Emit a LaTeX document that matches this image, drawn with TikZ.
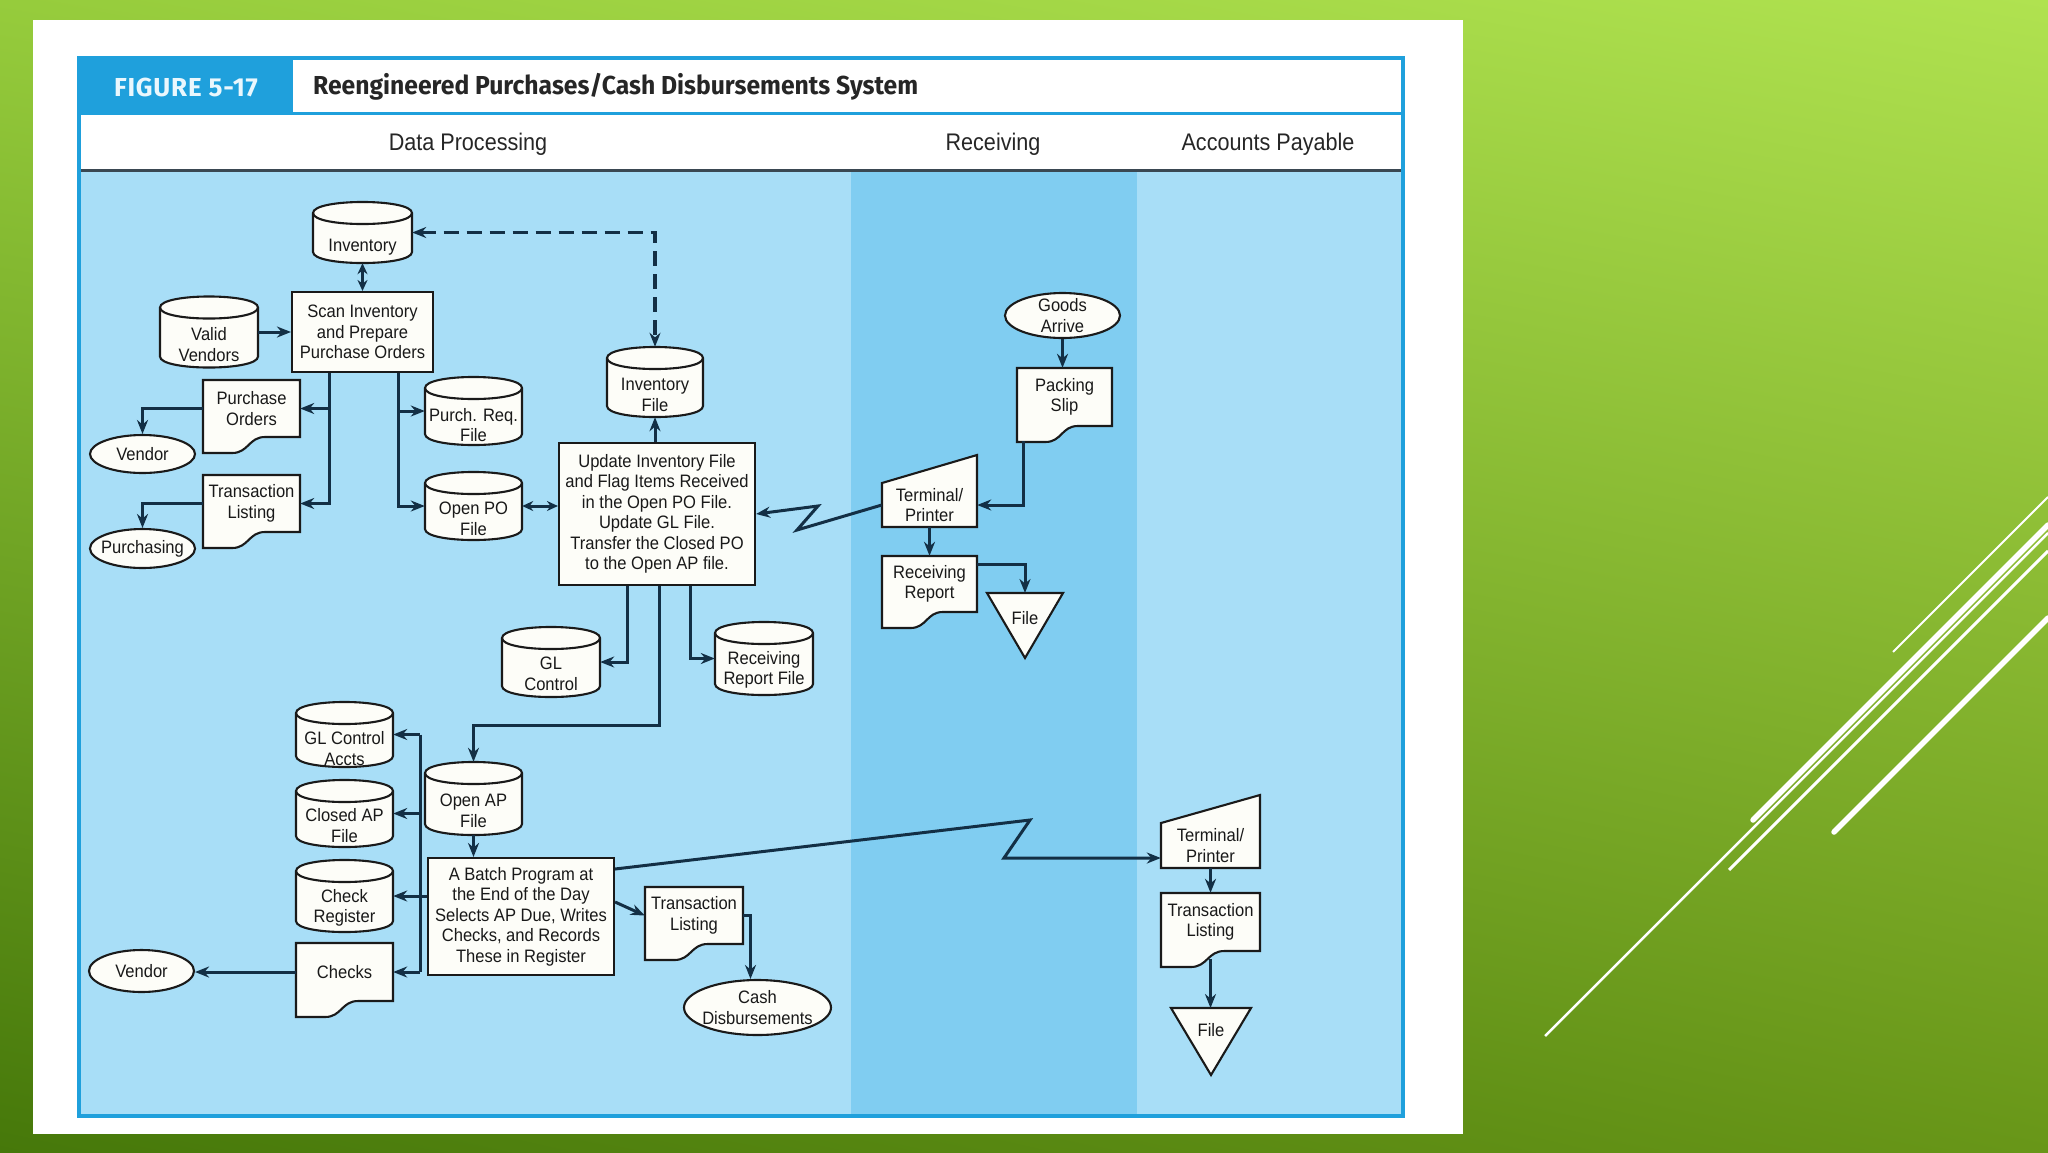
\documentclass[tikz,border=0pt]{standalone}
\usepackage{fontspec}
\setmainfont{Liberation Sans}
\newfontfamily\dia{Liberation Sans}[FakeStretch=0.92]
\newfontfamily\hdr{Liberation Sans}[FakeStretch=0.9]
\newfontfamily\ttl{Fira Sans}[FakeStretch=0.95]
\newfontfamily\figf{Fira Sans}[LetterSpace=3]
\usetikzlibrary{arrows.meta,shapes.geometric,shadings}
\definecolor{lanea}{HTML}{A8DEF7}
\definecolor{laneb}{HTML}{80CDF1}
\definecolor{frameb}{HTML}{1FA0DC}
\definecolor{linec}{HTML}{132F45}
\definecolor{shpline}{HTML}{1A1A1A}
\definecolor{shpfill}{HTML}{FDFDF8}
\definecolor{hdrline}{HTML}{3A4852}
\definecolor{figtext}{HTML}{EAF7FD}
\definecolor{bgul}{HTML}{96CC3C}
\definecolor{bgur}{HTML}{B0E250}
\definecolor{bgll}{HTML}{46780A}
\definecolor{bglr}{HTML}{689618}
\tikzset{
  shp/.style={draw=shpline, fill=shpfill, line width=2.1pt, line join=miter},
  txt/.style={font=\dia\fontsize{18}{20.5}\selectfont, align=center, inner sep=0pt, text=black!90},
  proc/.style={txt, shp, rectangle},
  ell/.style={txt, shp, ellipse, inner xsep=-15pt, inner ysep=-8pt},
  area/.style={draw=none, inner sep=0pt, rectangle},
  arr/.style={draw=linec, line width=3pt, -{Stealth[length=14pt,width=11pt]}},
  darr/.style={draw=linec, line width=3pt, {Stealth[length=11pt,width=10pt]}-{Stealth[length=11pt,width=10pt]}},
  ln/.style={draw=linec, line width=3pt},
  dashline/.style={draw=linec, line width=3.4pt, dash pattern=on 15pt off 8pt,
     {Stealth[length=14pt,width=11pt]}-{Stealth[length=14pt,width=11pt]}},
  deco/.style={draw=white},
}
% cylinder: name, cx, cy, w, h, text dy, text
\newcommand\Cyl[7]{%
  \pgfmathsetmacro\myxl{#2-#4/2}\pgfmathsetmacro\myxr{#2+#4/2}%
  \pgfmathsetmacro\myyt{#3-#5/2+11}\pgfmathsetmacro\myyb{#3+#5/2-11}%
  \pgfmathsetmacro\mykt{\myyt-14.7}\pgfmathsetmacro\myki{\myyt+14.7}\pgfmathsetmacro\mykb{\myyb+14.7}%
  \path[shp] (\myxl,\myyt) -- (\myxl,\myyb) .. controls (\myxl,\mykb) and (\myxr,\mykb) .. (\myxr,\myyb)
     -- (\myxr,\myyt) .. controls (\myxr,\mykt) and (\myxl,\mykt) .. (\myxl,\myyt) -- cycle;
  \draw[shp, fill=none] (\myxl,\myyt) .. controls (\myxl,\myki) and (\myxr,\myki) .. (\myxr,\myyt);
  \node[area, minimum width=#4pt, minimum height=#5pt] (#1) at (#2,#3) {};
  \node[txt] (#1t) at (#2,#3+#6) {#7};
}
% document: name, xl, yt, xr, yb (rectangle part), text
\newcommand\Doc[6]{%
  \pgfmathsetmacro\mydw{#4-#2}\pgfmathsetmacro\mydh{#5-#3}%
  \pgfmathsetmacro\myda{#2+0.3*\mydw}\pgfmathsetmacro\mydb{#2+0.47*\mydw}\pgfmathsetmacro\mydc{#2+0.64*\mydw}%
  \pgfmathsetmacro\mydl{#5+16}%
  \path[shp] (#2,#3) -- (#4,#3) -- (#4,#5) -- (\mydc,#5) .. controls (\mydb,#5) and (\mydb,\mydl) .. (\myda,\mydl) -- (#2,\mydl) -- cycle;
  \node[txt, minimum width=\mydw pt, minimum height=\mydh pt] (#1) at ({(#2+#4)/2},{(#3+#5)/2}) {#6};
}
% terminal: name, xl, yt (right top), xr, yb, text
\newcommand\Term[6]{%
  \pgfmathsetmacro\mytl{#3+28}\pgfmathsetmacro\mytw{#4-#2}\pgfmathsetmacro\myth{#5-#3-28}%
  \path[shp] (#2,\mytl) -- (#4,#3) -- (#4,#5) -- (#2,#5) -- cycle;
  \node[txt, minimum width=\mytw pt, minimum height=\myth pt] (#1) at ({(#2+#4)/2},{(\mytl+#5)/2}) {#6};
}
% file triangle: name, xl, yt, xr, ytip, text, node height
\newcommand\Tri[7]{%
  \path[shp] (#2,#3) -- (#4,#3) -- ({(#2+#4)/2},#5) -- cycle;
  \node[txt, minimum height=#7pt, anchor=north] (#1) at ({(#2+#4)/2},#3) {#6};
}
\begin{document}
\begin{tikzpicture}[x=1pt,y=-1pt]
\useasboundingbox (0,0) rectangle (2048,1152);
\shade[upper left=bgul, upper right=bgur, lower left=bgll, lower right=bglr] (0,0) rectangle (2048,1152);
% decorative lines
\draw[deco, line width=2pt] (1893,652) -- (2048,497);
\draw[deco, line width=5.5pt, line cap=round] (1753,820) -- (2048,525);
\draw[deco, line width=2.5pt] (1545,1036) -- (2048,533);
\draw[deco, line width=3pt] (1729,870) -- (2048,551);
\draw[deco, line width=5.5pt, line cap=round] (1834,832) -- (2048,618);
% slide panel
\fill[white] (33,20) rectangle (1463,1134);
% lanes
\fill[lanea] (79,170) rectangle (851,1116);
\fill[laneb] (851,170) rectangle (1137,1116);
\fill[lanea] (1137,170) rectangle (1403,1116);
\fill[frameb] (79,58) rectangle (293,113);
\draw[frameb, line width=3pt] (79,113) -- (1403,113);
\draw[hdrline, line width=3pt] (79,170) -- (1403,170);
\draw[frameb, line width=4pt] (79,58) rectangle (1403,1116);
% headers
\node[font=\figf\bfseries\fontsize{26}{28}\selectfont, text=figtext, inner sep=0pt] (fig) at (186,87) {FIGURE 5-17};
\node[font=\ttl\bfseries\fontsize{26}{28}\selectfont, text=black!85, anchor=west, inner sep=0pt] (title) at (313,87) {Reengineered Purchases/Cash Disbursements System};
\node[font=\hdr\fontsize{24}{26}\selectfont, text=black!85, inner sep=0pt] (hdp) at (468,144) {Data Processing};
\node[font=\hdr\fontsize{24}{26}\selectfont, text=black!85, inner sep=0pt] (hrec) at (993,144) {Receiving};
\node[font=\hdr\fontsize{24}{26}\selectfont, text=black!85, inner sep=0pt] (hap) at (1268,144) {Accounts Payable};

% ---- Data processing lane ----
\Cyl{inv}{362.5}{232.5}{99}{61}{14.5}{Inventory}
\node[proc, minimum width=141pt, minimum height=80pt] (scan) at (362.5,332) {Scan Inventory\\and Prepare\\Purchase Orders};
\Cyl{vv}{209}{332}{98}{71}{12.5}{Valid\\Vendors}
\Doc{po}{203}{380}{300}{437}{Purchase\\Orders}
\node[ell, minimum width=105pt, minimum height=38pt] (vend1) at (142.5,454) {Vendor};
\Doc{tlone}{203}{475}{300}{532}{Transaction\\Listing}
\node[ell, minimum width=105pt, minimum height=39pt] (purch) at (142.5,548.5) {Purchasing};
\Cyl{prf}{473.5}{411}{97}{68}{14}{Purch. Req.\\File}
\Cyl{opo}{473.5}{506}{97}{68}{13}{Open PO\\File}
\Cyl{invf}{655}{382}{96}{70}{13}{Inventory\\File}
\node[proc, minimum width=196pt, minimum height=142pt] (upd) at (657,514) {Update Inventory File\\and Flag Items Received\\in the Open PO File.\\Update GL File.\\Transfer the Closed PO\\to the Open AP file.};
\Cyl{glc}{551}{662}{98}{70}{12}{GL\\Control}
\Cyl{rrf}{764}{658.5}{98}{73}{11.5}{Receiving\\Report File}
\Cyl{oap}{473.5}{798.5}{97}{73}{12.5}{Open AP\\File}
\node[proc, minimum width=186pt, minimum height=117pt] (batch) at (521,916.5) {A Batch Program at\\the End of the Day\\Selects AP Due, Writes\\Checks, and Records\\These in Register};
\Cyl{glca}{344.5}{734.5}{97}{65}{14}{GL Control\\Accts}
\Cyl{cap}{344.5}{813.5}{97}{67}{12}{Closed AP\\File}
\Cyl{creg}{344.5}{896}{97}{72}{12}{Check\\Register}
\Doc{checks}{296}{943}{393}{1001}{Checks}
\node[ell, minimum width=105pt, minimum height=42pt] (vend2) at (141.5,971) {Vendor};
\Doc{tltwo}{645}{887}{743}{944}{Transaction\\Listing}
\node[ell, minimum width=147pt, minimum height=55pt] (cash) at (757.5,1007.5) {Cash\\Disbursements};

% ---- Receiving lane ----
\node[ell, minimum width=115pt, minimum height=45pt] (goods) at (1062.5,315.5) {Goods\\Arrive};
\Doc{pslip}{1017}{368}{1112}{426}{Packing\\Slip}
\Term{termone}{882}{455}{977}{527}{Terminal/\\Printer}
\Doc{rrep}{882}{556}{977}{612}{Receiving\\Report}
\Tri{fileone}{987}{593}{1063}{658}{File}{50}

% ---- Accounts payable lane ----
\Term{termtwo}{1161}{795}{1260}{868}{Terminal/\\Printer}
\Doc{tlthree}{1161}{893}{1260}{951}{Transaction\\Listing}
\Tri{filetwo}{1171}{1008}{1251}{1075}{File}{44}

% ---- connectors ----
\draw[darr] (inv) -- (scan);
\draw[arr] (vv) -- (scan);
\coordinate (sl) at ([xshift=-33.5pt]scan.south);
\coordinate (sr) at ([xshift=35.5pt]scan.south);
\draw[arr] (sl) |- (tlone.east);
\draw[arr] (sl |- po.east) -- (po.east);
\draw[arr] (sr) |- (opo.west);
\draw[arr] (sr |- prf.west) -- (prf.west);
\draw[arr] (po.west) -| (vend1.north);
\draw[arr] (tlone.west) -| (purch.north);
\draw[darr] (opo.east) -- (opo.east -| upd.west);
\draw[dashline] (inv.east) -- (inv.east -| invf.north) -- (invf.north);
\draw[arr] (upd.north -| invf.south) -- (invf.south);
\draw[arr] (termone.west) -- (797,530) -- (818,506) -- (upd.east);
\draw[arr] (goods.south) -- (goods.south |- pslip.north);
\draw[arr] ([xshift=-41pt,yshift=-15pt]pslip.south) |- (termone.east);
\draw[arr] (termone) -- (rrep);
\draw[arr] ([yshift=20pt]rrep.east) -| (fileone.north);
\coordinate (uone) at ([xshift=-30pt]upd.south);
\coordinate (utwo) at ([xshift=2pt]upd.south);
\coordinate (uthree) at ([xshift=33pt]upd.south);
\coordinate (ujog) at (659,725);
\draw[arr] (uone) |- (glc.east);
\draw[arr] (uthree) |- (rrf.west);
\draw[arr] (utwo) -- (ujog) -| (oap.north);
\draw[arr] (oap.south) -- (oap.south |- batch.north);
\coordinate (bus) at (420,800);
\draw[ln] (glca.east -| bus) -- (checks.east -| bus);
\draw[ln] (creg.east -| batch.west) -- (creg.east -| bus);
\draw[arr] (glca.east -| bus) -- (glca.east);
\draw[arr] (cap.east -| bus) -- (cap.east);
\draw[arr] (creg.east -| bus) -- (creg.east);
\draw[arr] (checks.east -| bus) -- (checks.east);
\draw[arr] (checks.west) -- (checks.west -| vend2.east);
\draw[arr] ([yshift=14.5pt]batch.east) -- (tltwo.west);
\draw[arr] (tltwo.east) -| ([xshift=-7pt]cash.north);
\draw[arr] ([yshift=47.5pt]batch.east) -- (1030,820) -- (1004,858) -- ([yshift=-12.5pt]termtwo.west);
\draw[arr] (termtwo) -- (tlthree);
\draw[arr] ([yshift=-8pt]tlthree.south) -- (tlthree.south |- filetwo.north);
\end{tikzpicture}
\end{document}
